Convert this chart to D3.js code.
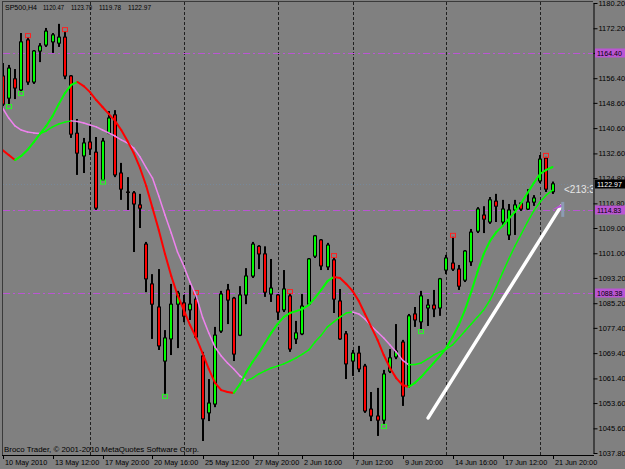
<!DOCTYPE html>
<html lang="en">
<head>
  <meta charset="UTF-8" />
  <title>SP500,H4</title>
  <style>
    body { margin: 0; background: #808080; }
    svg { display: block; }
    text { font-family: "Liberation Sans", Arial, sans-serif; }
  </style>
</head>
<body>
  <svg width="625" height="469"></svg>

  <script src="https://cdnjs.cloudflare.com/ajax/libs/d3/7.8.5/d3.min.js"></script>
  <script>
    // H4 bars, 10 May - 21 Jun 2010
    const opens = [1157.1,1150.1,1156.2,1152.7,1168.5,1155.2,1165.0,1166.9,1167.9,1167.5,
      1169.4,1157.1,1139.0,1131.8,1136.2,1133.0,1124.2,1139.1,1144.8,1126.4,
      1120.4,1120.1,1116.3,1103.9,1091.3,1084.0,1066.9,1073.9,1084.9,1085.3,
      1083.1,1086.5,1068.5,1050.5,1053.3,1076.4,1089.4,1086.8,1075.1,1087.8,
      1093.8,1103.2,1100.8,1088.1,1087.8,1083.1,1087.5,1073.9,1075.5,1084.9,
      1100.1,1105.2,1096.7,1098.9,1085.9,1075.5,1066.9,1069.4,1065.3,1051.7,
      1049.5,1048.2,1063.7,1068.2,1072.9,1059.0,1081.8,1079.3,1083.7,1084.6,
      1083.7,1095.7,1097.9,1096.0,1092.5,1098.3,1108.0,1113.1,1110.9,1117.5,
      1110.9,1106.8,1114.7,1116.9,1115.0,1117.2,1123.9,1131.1,1120.47];
    const highs = [1161.2,1160.6,1159.3,1170.7,1169.4,1165.3,1167.5,1172.3,1170.7,1173.6,
      1171.3,1157.4,1143.5,1137.5,1141.6,1137.8,1137.5,1146.0,1146.3,1129.6,
      1125.1,1120.7,1119.8,1104.6,1094.4,1096.0,1076.7,1091.3,1089.1,1087.8,
      1091.0,1088.1,1069.8,1061.2,1077.7,1089.1,1091.3,1087.2,1090.6,1096.3,
      1104.6,1103.6,1103.2,1099.2,1088.1,1095.7,1088.4,1079.6,1088.1,1099.5,
      1106.8,1105.5,1104.3,1099.8,1089.7,1076.4,1070.4,1071.7,1066.0,1057.1,
      1058.4,1064.1,1070.7,1078.6,1073.6,1081.8,1084.0,1089.1,1086.5,1089.4,
      1093.2,1100.5,1106.2,1097.3,1102.0,1108.7,1115.6,1115.9,1118.8,1119.8,
      1117.9,1116.6,1117.9,1117.2,1121.3,1119.4,1132.1,1131.5,1123.70];
    const lows = [1147.6,1147.9,1149.8,1152.0,1154.3,1154.6,1161.5,1166.3,1164.4,1166.3,
      1156.1,1137.5,1125.8,1126.4,1132.1,1114.7,1124.0,1138.7,1125.1,1117.9,
      1114.7,1101.4,1109.0,1088.7,1073.9,1070.4,1056.2,1068.8,1071.0,1079.2,
      1079.9,1073.9,1041.6,1047.9,1052.3,1075.8,1078.6,1066.9,1074.8,1084.9,
      1093.2,1096.0,1087.2,1085.6,1079.9,1082.4,1069.8,1072.3,1075.1,1084.6,
      1099.5,1095.7,1095.7,1082.1,1073.6,1061.2,1062.2,1063.4,1050.5,1047.9,
      1043.2,1046.7,1063.1,1067.5,1052.7,1058.4,1077.7,1076.7,1078.0,1080.8,
      1081.2,1094.4,1095.4,1089.4,1091.9,1097.0,1107.4,1107.4,1110.3,1110.9,
      1109.6,1105.2,1106.8,1114.4,1114.7,1116.0,1123.2,1120.4,1119.78];
    const closes = [1148.2,1159.6,1153.3,1167.9,1155.2,1165.0,1166.6,1171.3,1170.1,1169.4,
      1157.1,1138.7,1132.7,1135.9,1134.0,1115.3,1136.5,1143.8,1125.8,1121.3,
      1120.3,1116.6,1115.3,1092.9,1084.9,1071.7,1074.2,1084.9,1088.4,1081.1,
      1084.9,1074.5,1048.6,1053.6,1075.1,1088.1,1086.2,1069.1,1087.8,1093.8,
      1103.9,1100.8,1088.7,1090.0,1082.4,1089.7,1070.7,1075.8,1084.3,1099.2,
      1106.5,1097.0,1103.6,1086.5,1073.9,1066.0,1069.4,1064.4,1051.1,1049.5,
      1048.2,1062.8,1067.9,1070.1,1055.8,1081.2,1079.9,1087.5,1084.6,1083.4,
      1092.9,1099.5,1096.0,1090.6,1101.7,1107.7,1115.0,1111.8,1117.9,1115.9,
      1115.0,1114.7,1116.3,1115.0,1117.2,1118.5,1130.8,1121.3,1122.97];

    // moving averages (one value per bar)
    const maFast = [1133.7,1132.1,1130.5,1131.8,1133.7,1136.2,1138.8,1141.3,1144.4,1148.2,
      1151.7,1154.3,1155.2,1153.9,1152.0,1149.5,1147.3,1145.1,1142.9,1140.0,
      1136.5,1132.7,1128.0,1122.3,1115.3,1108.4,1100.8,1093.8,1087.8,1083.1,
      1078.3,1074.2,1069.4,1064.4,1060.0,1057.7,1057.1,1056.8,1059.6,1063.4,
      1066.6,1069.4,1072.6,1075.8,1078.6,1080.8,1082.1,1082.7,1083.4,1084.6,
      1086.9,1089.4,1092.2,1093.5,1093.2,1091.3,1089.1,1085.9,1081.8,1077.7,
      1073.6,1068.8,1064.7,1061.5,1059.3,1058.7,1060.0,1061.9,1064.1,1066.3,
      1068.5,1071.0,1074.5,1078.3,1083.1,1088.8,1095.1,1100.8,1104.9,1107.7,
      1109.6,1111.9,1114.1,1116.9,1120.1,1123.2,1126.1,1127.4,1128.3];
    const maSlow = [1147.0,1143.8,1141.3,1140.0,1139.4,1139.1,1138.9,1139.7,1141.0,1141.9,
      1142.5,1142.9,1142.7,1142.2,1141.6,1141.0,1140.0,1139.1,1138.1,1136.9,
      1135.9,1134.3,1131.5,1128.0,1124.8,1119.1,1113.1,1107.4,1101.4,1097.0,
      1091.9,1087.5,1080.8,1075.8,1071.3,1068.5,1066.3,1064.4,1062.2,1060.6,
      1061.5,1062.8,1063.8,1064.7,1065.3,1066.0,1066.9,1067.9,1069.1,1070.4,
      1072.9,1075.1,1077.7,1079.3,1080.8,1082.1,1082.4,1081.8,1080.2,1078.0,
      1076.1,1074.2,1072.0,1069.8,1067.2,1065.7,1065.8,1066.3,1067.5,1068.8,
      1069.8,1070.7,1072.0,1074.2,1076.4,1078.6,1080.8,1083.1,1086.2,1090.3,
      1094.8,1099.2,1103.3,1107.1,1110.9,1114.4,1117.2,1119.4,1121.0];

    const fractalUp = [4, 10, 31, 46, 53, 72, 87];
    const fractalDown = [1, 3, 16, 26, 61, 67];

    const gridBars = [14, 29, 44, 56, 71, 86];
    const timeLabels = ["10 May 2010", "13 May 12:00", "17 May 20:00", "20 May 16:00",
      "25 May 12:00", "27 May 20:00", "2 Jun 16:00", "7 Jun 12:00", "9 Jun 20:00",
      "14 Jun 16:00", "17 Jun 12:00", "21 Jun 20:00"];
    const timeLabelBars = [0, 8, 16, 24, 32, 40, 48, 56, 64, 72, 80, 88];
    const priceTicks = [1180.20, 1172.20, 1164.40, 1156.40, 1148.60, 1140.60, 1132.60,
      1124.80, 1116.80, 1109.00, 1101.00, 1093.20, 1085.20, 1077.40, 1069.40, 1061.40,
      1053.60, 1045.60, 1037.80];

    const levels = [1164.40, 1114.83, 1088.38];
    const bid = 1122.97;
    const trendBars = [68.1, 89.4];
    const trendPrices = [1048.9, 1116.0];
    const header = ["SP500,H4", "1120.47", "1123.70", "1119.78", "1122.97"];

    const W = 625, H = 469;
    const plotRight = 593, plotBottom = 455;

    const svg = d3.select("svg");
    const x = d3.scaleLinear().domain([0, 88]).range([2.5, 552.5]);
    const y = d3.scaleLinear().domain([1037.8, 1180.2]).range([453, 3]);
    const bx = i => Math.round(x(i));

    svg.append("rect").attr("width", W).attr("height", H).attr("fill", "#808080");

    svg.append("defs").append("clipPath").attr("id", "plot")
      .append("rect").attr("x", 3).attr("y", 2).attr("width", plotRight - 3).attr("height", plotBottom - 2);

    const g = svg.append("g").attr("clip-path", "url(#plot)");

    // vertical grid
    g.selectAll(".grid").data(gridBars).join("line")
      .attr("x1", d => bx(d) + 0.5).attr("x2", d => bx(d) + 0.5)
      .attr("y1", 2).attr("y2", plotBottom)
      .attr("stroke", "#202020").attr("stroke-dasharray", "3,2");

    // horizontal levels
    g.selectAll(".level").data(levels).join("line")
      .attr("x1", 3).attr("x2", plotRight)
      .attr("y1", d => Math.round(y(d)) + 0.5).attr("y2", d => Math.round(y(d)) + 0.5)
      .attr("stroke", "#ba55d3").attr("stroke-dasharray", "7,3,2,3");

    g.append("line")
      .attr("x1", 3).attr("x2", plotRight)
      .attr("y1", Math.round(y(bid)) + 0.5).attr("y2", Math.round(y(bid)) + 0.5)
      .attr("stroke", "#778899").attr("stroke-dasharray", "1,2");

    // candles
    const idx = d3.range(closes.length);
    g.selectAll(".wick").data(idx).join("rect")
      .attr("x", i => bx(i) - 1).attr("width", 2)
      .attr("y", i => y(highs[i])).attr("height", i => Math.max(1, y(lows[i]) - y(highs[i])))
      .attr("fill", "#000");

    g.selectAll(".body").data(idx).join("rect")
      .attr("x", i => bx(i) - 1.5).attr("width", 3)
      .attr("y", i => y(Math.max(opens[i], closes[i])))
      .attr("height", i => Math.max(0.5, Math.abs(y(opens[i]) - y(closes[i]))))
      .attr("fill", i => closes[i] >= opens[i] ? "#00ff00" : "#ff0000")
      .attr("stroke", "#000").attr("stroke-width", 1);

    // fractal boxes
    g.selectAll(".fup").data(fractalUp).join("rect")
      .attr("x", i => bx(i) - 2.5).attr("y", i => y(highs[i]) - 3.5)
      .attr("width", 5).attr("height", 4)
      .attr("fill", "none").attr("stroke", "#ff2020");
    g.selectAll(".fdn").data(fractalDown).join("rect")
      .attr("x", i => bx(i) - 2.5).attr("y", i => y(lows[i]) - 0.5)
      .attr("width", 5).attr("height", 4)
      .attr("fill", "none").attr("stroke", "#20ff20");

    // moving averages, coloured by direction
    function drawMA(values, up, down, width) {
      const segs = d3.range(values.length - 1);
      g.append("g").selectAll("line").data(segs).join("line")
        .attr("x1", i => x(i)).attr("y1", i => y(values[i]))
        .attr("x2", i => x(i + 1)).attr("y2", i => y(values[i + 1]))
        .attr("stroke", i => values[i + 1] >= values[i] ? up : down)
        .attr("stroke-width", width)
        .attr("stroke-linecap", "round");
    }
    drawMA(maSlow, "#00ff00", "#ee82ee", 1.5);
    drawMA(maFast, "#00ff00", "#ff0000", 2);

    // trend line
    g.append("line")
      .attr("x1", x(trendBars[0])).attr("y1", y(trendPrices[0]))
      .attr("x2", x(trendBars[1])).attr("y2", y(trendPrices[1]))
      .attr("stroke", "#fff").attr("stroke-width", 3.5).attr("stroke-linecap", "round");

    g.append("path")
      .attr("d", `M${x(88) - 1},${y(trendPrices[1]) + 4} L${x(89.4) + 2},${y(trendPrices[1]) - 3} L${x(89.4) + 1},${y(trendPrices[1]) + 1}Z`)
      .attr("fill", "#ba55d3");
    g.append("rect")
      .attr("x", x(89.4)).attr("y", y(trendPrices[1]) - 4).attr("width", 3).attr("height", 15)
      .attr("fill", "#8c9cb4");

    g.append("text").attr("x", 564).attr("y", 193)
      .attr("font-size", 10).attr("fill", "#e6e6e6").text("<213:3");

    // frame
    svg.append("line").attr("x1", 2.5).attr("x2", 2.5).attr("y1", 1).attr("y2", plotBottom)
      .attr("stroke", "#3a3a3a");
    svg.append("line").attr("x1", 2).attr("x2", plotRight).attr("y1", 1.5).attr("y2", 1.5)
      .attr("stroke", "#3a3a3a");

    // price axis; the level box stands in for the label at the same price
    const yAxis = svg.append("g").attr("transform", `translate(${plotRight + 0.5},0)`)
      .call(d3.axisRight(y).tickValues(priceTicks)
        .tickFormat(d => levels.includes(d) ? "" : d3.format(".2f")(d))
        .tickSize(4).tickPadding(1).tickSizeOuter(0));
    yAxis.select(".domain").attr("stroke", "#000");
    yAxis.selectAll(".tick line").attr("stroke", "#000");
    yAxis.selectAll("text").attr("font-size", 7.5).attr("fill", "#000")
      .attr("font-family", "'Liberation Sans', Arial, sans-serif");

    // price boxes (drawn over the axis labels, as in the terminal)
    const boxes = [
      { v: levels[0], bg: "#ba55d3", fg: "#000" },
      { v: levels[1], bg: "#ba55d3", fg: "#000" },
      { v: levels[2], bg: "#ba55d3", fg: "#000" },
      { v: bid, bg: "#000", fg: "#fff" }
    ];
    const bg = svg.append("g").selectAll("g").data(boxes).join("g")
      .attr("transform", d => `translate(595,${Math.round(y(d.v))})`);
    bg.append("rect").attr("x", 0).attr("y", -4.5).attr("width", 30).attr("height", 9)
      .attr("fill", d => d.bg);
    bg.append("text").attr("x", 2).attr("y", 2.5).attr("font-size", 7)
      .attr("fill", d => d.fg).text(d => d3.format(".2f")(d.v));

    // time axis
    svg.append("line").attr("x1", 2).attr("x2", plotRight + 1)
      .attr("y1", plotBottom + 0.5).attr("y2", plotBottom + 0.5).attr("stroke", "#000");
    const tg = svg.append("g").selectAll("g").data(timeLabelBars).join("g")
      .attr("transform", d => `translate(${bx(d) + 0.5},${plotBottom})`);
    tg.append("line").attr("y1", 0).attr("y2", 4).attr("stroke", "#000");
    tg.append("text").attr("x", 1.5).attr("y", 9.5).attr("font-size", 7.3)
      .attr("fill", "#000").text((d, i) => timeLabels[i]);

    // header
    const headerX = [5, 43, 71, 99, 128];
    const headerW = [32, 21, 21, 22, 23];
    svg.append("g").selectAll("text").data(header).join("text")
      .attr("x", (d, i) => headerX[i]).attr("y", 10)
      .attr("font-size", 8).attr("fill", "#000")
      .attr("textLength", (d, i) => headerW[i]).attr("lengthAdjust", "spacingAndGlyphs")
      .text(d => d);

    svg.append("text").attr("x", 4).attr("y", 452).attr("font-size", 7.5).attr("fill", "#000")
      .attr("textLength", 195).attr("lengthAdjust", "spacingAndGlyphs")
      .text("Broco Trader, \u00a9 2001-2010 MetaQuotes Software Corp.");
  </script>
</body>
</html>
